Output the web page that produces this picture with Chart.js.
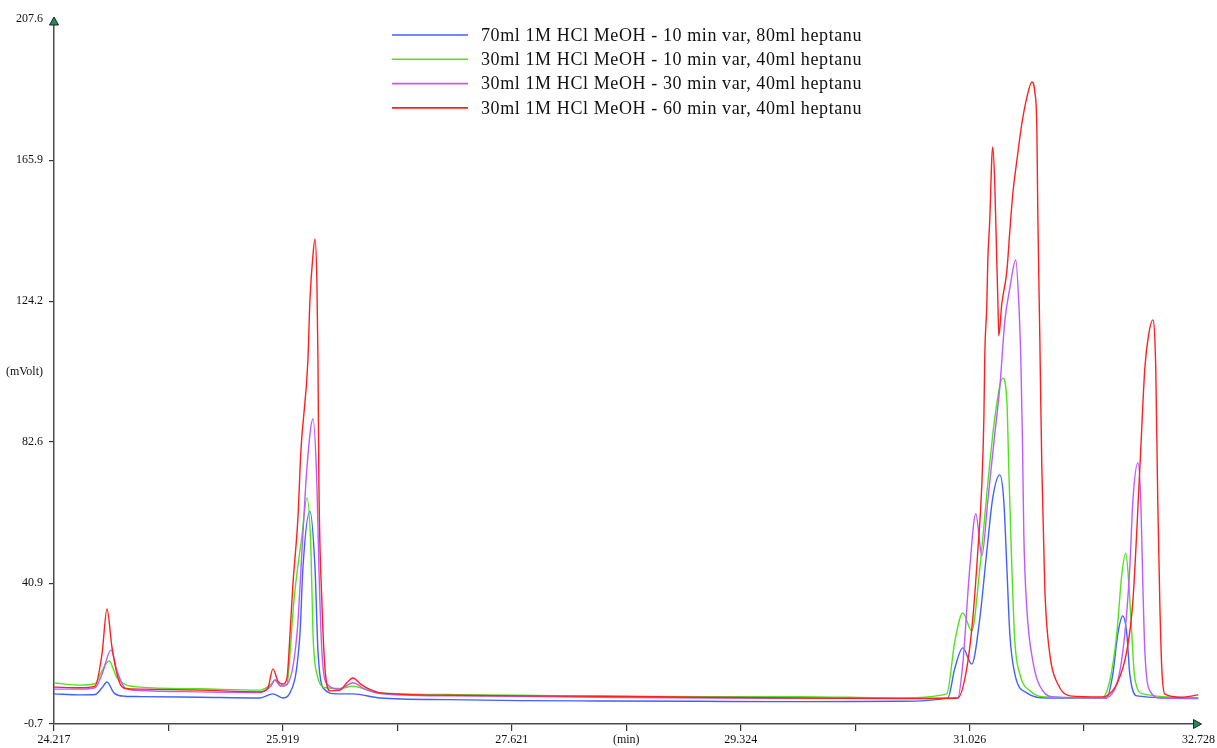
<!DOCTYPE html>
<html>
<head>
<meta charset="utf-8">
<script src="https://cdn.jsdelivr.net/npm/chart.js@4/dist/chart.umd.min.js"></script>
<style>
  html, body { margin: 0; padding: 0; background: #fff; }
  #wrap { width: 1217px; height: 748px; }
</style>
</head>
<body>
<div id="wrap"><canvas id="gcChart" width="1217" height="748"></canvas></div>
<script>
// series labels (legend)
const seriesLabels = [
    '70ml 1M HCl MeOH - 10 min var, 80ml heptanu',
    '30ml 1M HCl MeOH - 10 min var, 40ml heptanu',
    '30ml 1M HCl MeOH - 30 min var, 40ml heptanu',
    '30ml 1M HCl MeOH - 60 min var, 40ml heptanu'
];
const seriesColors = ['rgb(64,96,255)', 'rgb(80,228,30)', 'rgb(190,90,255)', 'rgb(255,32,32)'];

// axis ticks
const xTicks = [24.217, 25.919, 27.621, 29.324, 31.026, 32.728];
const yTicks = [-0.7, 40.9, 82.6, 124.2, 165.9, 207.6];
const xUnit = '(min)';
const yUnit = '(mVolt)';

// retention time (min) / signal (mVolt)
const blueTime = [24.217, 24.410, 24.522, 24.574, 24.611, 24.663, 24.745, 24.856, 25.303, 25.749, 25.845, 25.919, 25.964,
    26.046, 26.068, 26.120, 26.158, 26.180, 26.217, 26.320, 26.440, 26.641, 27.161, 27.682, 28.277, 29.020, 29.764,
    30.507, 30.864, 30.916, 30.975, 31.042, 31.102, 31.154, 31.198, 31.250, 31.280, 31.303, 31.325, 31.362, 31.451,
    31.600, 32.046, 32.091, 32.128, 32.165, 32.195, 32.217, 32.269, 32.728];
const blueMv = [8.2, 7.9, 8.0, 10.0, 11.7, 8.5, 7.5, 7.4, 7.2, 7.0, 8.2, 7.0, 8.0,
    25.9, 45.4, 62.2, 45.4, 20.9, 10.0, 8.2, 8.2, 7.0, 6.5, 6.2, 6.1, 6.0, 5.9,
    6.0, 7.0, 15.8, 21.8, 17.0, 30.6, 50.4, 66.1, 72.9, 65.2, 45.4, 25.9, 14.1, 8.5,
    7.0, 7.0, 14.1, 25.9, 31.2, 25.9, 14.1, 7.6, 6.8];

const greenTime = [24.217, 24.410, 24.522, 24.574, 24.626, 24.685, 24.745, 24.856, 25.303, 25.749, 25.830, 25.860, 25.905,
    25.950, 25.964, 26.001, 26.061, 26.098, 26.128, 26.143, 26.172, 26.239, 26.343, 26.440, 26.529, 26.641, 27.161,
    27.682, 28.277, 29.020, 29.764, 30.507, 30.856, 30.916, 30.975, 31.042, 31.102, 31.161, 31.213, 31.273, 31.303,
    31.317, 31.340, 31.362, 31.399, 31.474, 31.600, 32.009, 32.068, 32.120, 32.158, 32.187, 32.210, 32.232, 32.254,
    32.314, 32.728];
const greenMv = [11.4, 10.8, 11.2, 15.0, 17.9, 13.0, 11.0, 10.2, 9.7, 9.3, 11.0, 12.3, 10.5,
    11.0, 15.8, 35.6, 55.0, 66.1, 50.4, 25.9, 14.1, 10.0, 9.8, 10.5, 9.6, 8.5, 8.0,
    7.8, 7.5, 7.4, 7.4, 7.0, 8.2, 23.8, 32.1, 26.8, 45.4, 70.2, 89.7, 101.5, 94.7,
    75.0, 45.4, 23.8, 14.1, 9.1, 7.3, 7.0, 12.0, 25.9, 43.6, 49.8, 40.7, 25.9, 12.9,
    8.2, 7.0];

const purpleTime = [24.217, 24.410, 24.522, 24.574, 24.641, 24.685, 24.745, 24.856, 25.303, 25.749, 25.830, 25.860, 25.905,
    25.950, 26.024, 26.061, 26.098, 26.143, 26.172, 26.187, 26.209, 26.246, 26.343, 26.440, 26.529, 26.641, 27.161,
    27.682, 28.277, 29.020, 29.764, 30.507, 30.938, 30.975, 31.027, 31.072, 31.117, 31.161, 31.213, 31.250, 31.288,
    31.325, 31.369, 31.392, 31.407, 31.418, 31.429, 31.451, 31.496, 31.570, 31.659, 32.016, 32.120, 32.180, 32.217,
    32.240, 32.277, 32.299, 32.314, 32.329, 32.366, 32.450, 32.728];
const purpleMv = [9.6, 9.6, 10.0, 14.0, 21.2, 15.0, 10.0, 9.2, 8.8, 8.6, 10.5, 12.3, 10.5,
    11.0, 25.9, 50.4, 75.0, 89.4, 70.2, 45.4, 20.9, 11.1, 9.6, 11.5, 9.6, 8.3, 7.6,
    7.5, 7.2, 7.0, 6.9, 6.9, 7.0, 17.0, 45.4, 61.4, 49.0, 65.2, 85.0, 98.6, 118.4,
    128.1, 136.4, 123.4, 106.6, 85.0, 55.4, 33.6, 17.9, 9.1, 7.3, 7.0, 11.1, 25.9, 45.4,
    65.2, 76.4, 65.2, 40.7, 20.9, 9.1, 7.0, 7.0];

const redTime = [24.217, 24.410, 24.522, 24.574, 24.611, 24.648, 24.700, 24.745, 24.856, 25.303, 25.749, 25.808, 25.845,
    25.882, 25.919, 25.950, 25.972, 25.994, 26.031, 26.053, 26.105, 26.120, 26.143, 26.158, 26.172, 26.180, 26.187,
    26.209, 26.232, 26.269, 26.343, 26.395, 26.440, 26.500, 26.566, 26.641, 27.161, 27.682, 28.277, 29.020, 29.764,
    30.507, 30.938, 31.005, 31.050, 31.087, 31.117, 31.132, 31.139, 31.154, 31.161, 31.176, 31.191, 31.198, 31.213,
    31.228, 31.236, 31.243, 31.265, 31.303, 31.325, 31.347, 31.377, 31.414, 31.451, 31.489, 31.511, 31.526, 31.533,
    31.548, 31.555, 31.563, 31.585, 31.622, 31.682, 31.771, 32.009, 32.046, 32.120, 32.195, 32.240, 32.292, 32.329,
    32.358, 32.388, 32.410, 32.425, 32.440, 32.455, 32.477, 32.600, 32.728];
const redMv = [10.2, 10.0, 10.5, 20.0, 33.3, 22.0, 12.0, 9.8, 9.6, 9.3, 8.8, 10.0, 15.6,
    12.0, 11.1, 13.0, 25.9, 40.7, 60.2, 80.0, 106.6, 124.3, 138.0, 142.6, 130.0, 106.6, 70.2,
    35.6, 15.8, 9.1, 9.3, 11.5, 12.9, 11.0, 9.5, 8.5, 7.8, 7.6, 7.5, 7.2, 7.0,
    6.8, 7.0, 15.8, 30.6, 50.4, 70.2, 89.7, 108.6, 123.4, 136.0, 148.5, 166.5, 169.8, 158.9,
    136.0, 124.3, 114.0, 123.4, 133.2, 145.0, 155.9, 165.7, 176.6, 184.3, 189.0, 186.0, 175.0, 150.0,
    113.4, 94.7, 75.0, 39.5, 20.0, 11.1, 7.6, 7.3, 7.6, 11.1, 20.9, 35.6, 75.0, 104.5,
    114.5, 118.7, 104.5, 65.2, 35.6, 15.8, 8.2, 7.2, 7.9];

const seriesTimes = [blueTime, greenTime, purpleTime, redTime];
const seriesValues = [blueMv, greenMv, purpleMv, redMv];

const FONT = '"Liberation Serif", "Times New Roman", serif';

// tick positions: labelled majors, unlabelled halfway minors
function withMinors(list) {
    let out = [];
    for (let i = 0; i < list.length; i++) {
        out.push(list[i]);
        if (i < list.length - 1) out.push((list[i] + list[i + 1]) / 2);
    }
    return out;
}

const datasets = seriesLabels.map((label, i) => ({
    label: label,
    data: seriesTimes[i].map((t, j) => ({x: t, y: seriesValues[i][j]})),
    borderColor: seriesColors[i],
    backgroundColor: seriesColors[i],
    borderWidth: 1.4,
    pointRadius: 0,
    cubicInterpolationMode: 'monotone',
    order: 3 - i
}));

// legend drawn inside the plot, near the top
const legendPlugin = {
    id: 'insideLegend',
    afterDraw(chart) {
        const ctx = chart.ctx;
        ctx.save();
        ctx.font = '18px ' + FONT;
        ctx.letterSpacing = '0.6px';
        ctx.textBaseline = 'middle';
        ctx.fillStyle = '#111';
        chart.data.datasets.forEach((ds, i) => {
            let y = 35 + i * 24.3;
            ctx.strokeStyle = ds.borderColor;
            ctx.lineWidth = 1.6;
            ctx.beginPath();
            ctx.moveTo(392, y);
            ctx.lineTo(468, y);
            ctx.stroke();
            ctx.fillText(ds.label, 481, y + 1);
        });
        ctx.restore();
    }
};

// arrow heads on the axes
const arrowPlugin = {
    id: 'axisArrows',
    afterDraw(chart) {
        const ctx = chart.ctx;
        const a = chart.chartArea;
        ctx.save();
        ctx.fillStyle = 'rgb(30,140,95)';
        ctx.strokeStyle = '#222';
        ctx.lineWidth = 1;
        // y axis, pointing up
        ctx.beginPath();
        ctx.moveTo(a.left, a.top - 2);
        ctx.lineTo(a.left - 4.5, a.top + 6);
        ctx.lineTo(a.left + 4.5, a.top + 6);
        ctx.closePath();
        ctx.fill();
        ctx.stroke();
        // x axis, pointing right
        ctx.beginPath();
        ctx.moveTo(a.right + 3, a.bottom);
        ctx.lineTo(a.right - 5, a.bottom - 4.5);
        ctx.lineTo(a.right - 5, a.bottom + 4.5);
        ctx.closePath();
        ctx.fill();
        ctx.stroke();
        ctx.restore();
    }
};

const xMid = (xTicks[2] + xTicks[3]) / 2;
const yMid = (yTicks[2] + yTicks[3]) / 2;
const xLast = xTicks[xTicks.length - 1];
const yLast = yTicks[yTicks.length - 1];

const gcChart = new Chart(
    document.getElementById('gcChart'),
    {
        type: 'line',
        data: {datasets: datasets},
        plugins: [legendPlugin, arrowPlugin],
        options: {
            responsive: false,
            animation: false,
            events: [],
            layout: {padding: {top: 19, right: 18, left: 0, bottom: 0}},
            plugins: {
                legend: {display: false},
                tooltip: {enabled: false}
            },
            scales: {
                x: {
                    type: 'linear',
                    min: xTicks[0],
                    max: xLast,
                    afterBuildTicks: (scale) => {
                        scale.ticks = withMinors(xTicks).map(v => ({value: v}));
                    },
                    afterFit: (scale) => { scale.height = 24; },
                    border: {display: true, color: '#4a4a4a', width: 1.5},
                    grid: {
                        drawOnChartArea: false,
                        drawTicks: true,
                        tickLength: 7,
                        lineWidth: 1.2,
                        // no tick under the arrow head
                        tickColor: (c) => (c.tick && Math.abs(c.tick.value - xLast) < 1e-6) ? 'rgba(0,0,0,0)' : '#333'
                    },
                    ticks: {
                        autoSkip: false,
                        maxRotation: 0,
                        padding: 2,
                        color: '#111',
                        font: {family: FONT, size: 12},
                        callback: function(value) {
                            if (xTicks.some(t => Math.abs(t - value) < 1e-6)) return value.toFixed(3);
                            if (Math.abs(value - xMid) < 1e-6) return xUnit;
                            return '';
                        }
                    }
                },
                y: {
                    type: 'linear',
                    min: yTicks[0],
                    max: yLast,
                    afterBuildTicks: (scale) => {
                        scale.ticks = yTicks.concat([yMid]).map(v => ({value: v}));
                    },
                    afterFit: (scale) => { scale.width = 54; },
                    border: {display: true, color: '#4a4a4a', width: 1.5},
                    grid: {
                        drawOnChartArea: false,
                        drawTicks: true,
                        tickLength: 5,
                        lineWidth: 1.2,
                        tickColor: (c) => {
                            if (!c.tick) return '#333';
                            let v = c.tick.value;
                            if (Math.abs(v - yLast) < 1e-6 || Math.abs(v - yMid) < 1e-6) return 'rgba(0,0,0,0)';
                            return '#333';
                        }
                    },
                    ticks: {
                        autoSkip: false,
                        padding: 6,
                        color: '#111',
                        font: {family: FONT, size: 12},
                        callback: function(value) {
                            if (Math.abs(value - yMid) < 1e-6) return yUnit;
                            return value.toFixed(1);
                        }
                    }
                }
            }
        }
    }
);
</script>
</body>
</html>
